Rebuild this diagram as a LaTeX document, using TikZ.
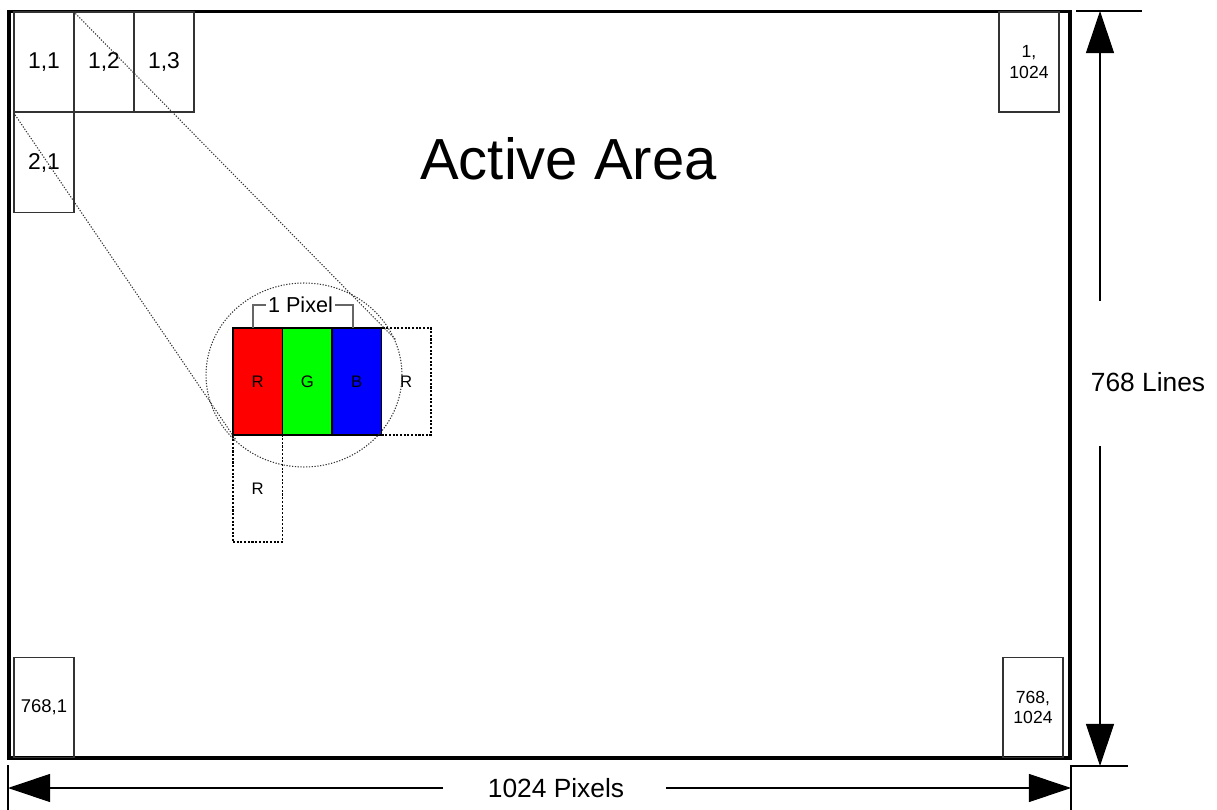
\documentclass[tikz,border=0pt]{standalone}
\usepackage{fontspec}
\setmainfont{Liberation Sans}
\usetikzlibrary{arrows.meta}

\begin{document}
\begin{tikzpicture}
  [x=0.02cm,y=-0.02cm,
   cell/.style={draw=black!80,line width=0.6pt,inner sep=0pt,minimum width=1.2cm,minimum height=2cm,font=\fontsize{13}{15}\selectfont},
   smallcell/.style={cell,align=center,font=\fontsize{10}{11.5}\selectfont},
   sub/.style={draw,line width=0.6pt,inner sep=0pt,minimum width=0.99cm,minimum height=2.14cm,font=\fontsize{9.5}{11}\selectfont},
   ghost/.style={sub,dash pattern=on 1.2pt off 0.9pt},
   zoomline/.style={black!80,line width=0.6pt,dash pattern=on 0.7pt off 0.9pt},
   dim/.style={line width=0.6pt,-{Triangle[length=24pt,width=16pt]}},
   dimtext/.style={font=\fontsize{15}{18}\selectfont}]
  \useasboundingbox (0,0) rectangle (1217,810);

  \node[draw,line width=2.2pt,inner sep=0pt,minimum width=21.24cm,minimum height=14.94cm] (panel) at (539.5,385) {};
  \node[font=\fontsize{33}{38}\selectfont] (title) at (568.5,158.5) {Active Area};

  \node[cell] (c11) at (44,62) {1,1};
  \node[cell] (c12) at (104,62) {1,2};
  \node[cell] (c13) at (164,62) {1,3};
  \node[cell] (c21) at (44,162.5) {2,1};
  \node[smallcell] (c1n) at (1029,62) {1,\\1024};
  \node[smallcell,font=\fontsize{10.5}{12}\selectfont] (cm1) at (44,707.5) {768,1};
  \node[smallcell] (cmn) at (1033,707.5) {768,\\1024};

  % magnified pixel
  \node[sub,fill=red] (r) at (257.75,381.5) {R};
  \node[sub,fill=green] (g) at (307.25,381.5) {G};
  \node[sub,fill=blue] (b) at (356.75,381.5) {B};
  \node[ghost] (rright) at (406.25,381.5) {R};
  \node[ghost] (rdown) at (257.75,488.5) {R};
  \draw[zoomline] (304,375) ellipse [x radius=1.96cm,y radius=1.84cm];

  \coordinate (z1) at (396,340);
  \coordinate (z2) at (236,440);
  \draw[zoomline] (c12.north west) -- (z1);
  \draw[zoomline] (c11.south west) -- (z2);

  \node[font=\fontsize{12.3}{14}\selectfont,inner sep=1pt] (pix) at (300.5,305) {1 Pixel};
  \coordinate (brl) at (253,328);
  \coordinate (brr) at (353,328);
  \draw[black!60,line width=0.6pt] (brl) |- (pix.west);
  \draw[black!60,line width=0.6pt] (brr) |- (pix.east);

  % dimensions
  \node[dimtext] (lines) at (1148,382.5) {768 Lines};
  \node[dimtext] (pixels) at (556,788) {1024 Pixels};

  \coordinate (vt) at (1100,11);
  \coordinate (va) at (1100,301);
  \coordinate (vc) at (1100,446);
  \coordinate (vb) at (1100,766);
  \draw[dim] (va) -- (vt);
  \draw[dim] (vc) -- (vb);

  \coordinate (hl) at (8,788);
  \coordinate (ha) at (443,788);
  \coordinate (hc) at (666,788);
  \coordinate (hr) at (1071,788);
  \draw[dim] (ha) -- (hl);
  \draw[dim] (hc) -- (hr);

  \coordinate (e1) at (1076,11);
  \coordinate (e2) at (1142,11);
  \coordinate (e3) at (1128,766);
  \coordinate (e4) at (1071,766);
  \coordinate (e5) at (1071,810);
  \coordinate (e6) at (8,765);
  \coordinate (e7) at (8,810);
  \draw[line width=0.6pt] (e1) -- (e2);
  \draw[line width=0.6pt] (e3) -- (e4) -- (e5);
  \draw[line width=0.6pt] (e6) -- (e7);
\end{tikzpicture}
\end{document}
